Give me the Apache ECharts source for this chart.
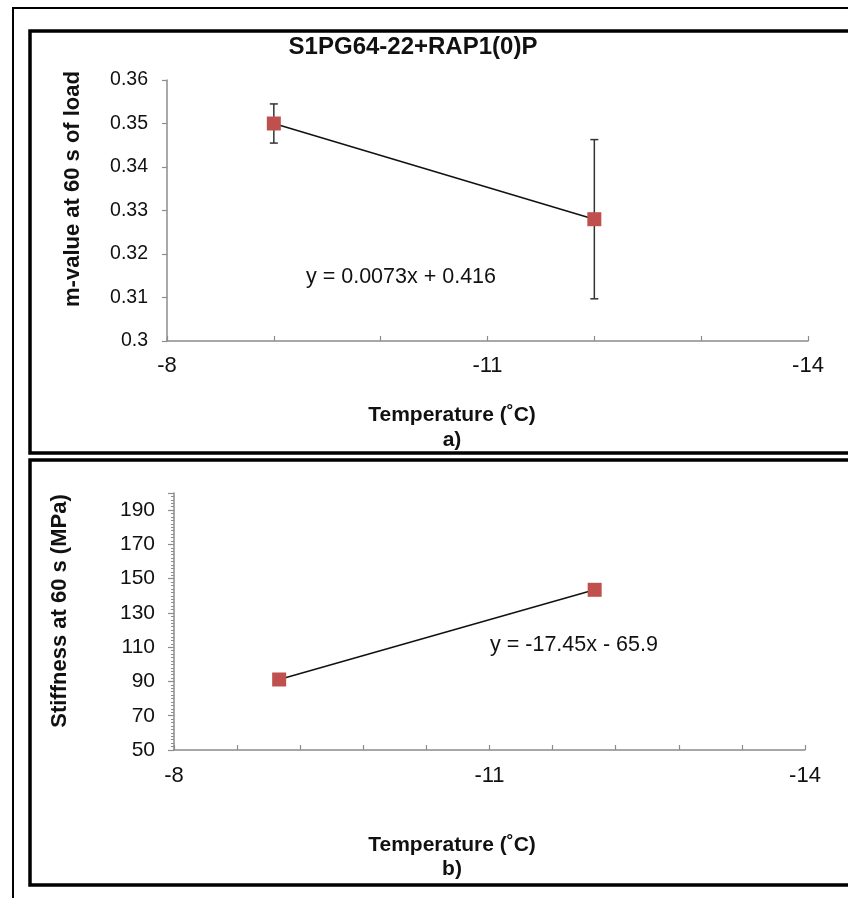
<!DOCTYPE html>
<html>
<head>
<meta charset="utf-8">
<script src="https://cdn.jsdelivr.net/npm/echarts@6/dist/echarts.min.js"></script>
<style>
  html, body { margin: 0; padding: 0; background: #fff; }
  #chart { width: 848px; height: 898px; }
</style>
</head>
<body>
<div id="chart"></div>
<script>
// Panel a: m-value at 60 s of load vs test temperature
const temps = [-9, -12];
const mValues = [0.350, 0.328];
const mErrors = [0.0045, 0.0183];
const mEquation = 'y = 0.0073x + 0.416';

// Panel b: creep stiffness at 60 s vs test temperature
const stiffness = [91.15, 143.5];
const sEquation = 'y = -17.45x - 65.9';

const chartTitle = 'S1PG64-22+RAP1(0)P';
const xTitle = 'Temperature (˚C)';
const yTitleA = 'm-value at 60 s of load';
const yTitleB = 'Stiffness at 60 s (MPa)';
const panelTags = ['a)', 'b)'];

const FONT = '"Liberation Sans", Arial, sans-serif';
const MARKER = '#c0504d';
const AXIS = '#8c8c8c';

const chart = echarts.init(document.getElementById('chart'), null, { renderer: 'canvas' });

const pairs = (xs, ys) => xs.map((x, i) => [x, ys[i]]);
const errData = temps.map((t, i) => [t, mValues[i] - mErrors[i], mValues[i] + mErrors[i]]);

// labels only at -14, -11 and -8
const isLabelTick = (v, step) => {
  const k = (v + 14) / step;
  return Math.abs(k - Math.round(k)) < 1e-6;
};

const baseX = {
  type: 'value', min: -14, max: -8, inverse: true,
  axisLine: { show: true, lineStyle: { color: AXIS, width: 1.5 } },
  axisTick: { show: true, inside: true, length: 5, lineStyle: { color: AXIS, width: 1.2 } },
  splitLine: { show: false },
  axisLabel: { color: '#111', fontSize: 22, fontFamily: FONT, margin: 14 }
};

const txt = (x, y, text, font, rot) => ({
  type: 'text', x, y, rotation: rot || 0,
  style: { text, font: font + ' ' + FONT, fill: '#111', textAlign: 'center', textVerticalAlign: 'middle' }
});

const option = {
  animation: false,
  backgroundColor: '#fff',
  graphic: [
    { type: 'rect', shape: { x: 13, y: 8, width: 860, height: 900 }, style: { fill: 'none', stroke: '#000', lineWidth: 2 } },
    { type: 'rect', shape: { x: 30, y: 31, width: 840, height: 422 }, style: { fill: 'none', stroke: '#000', lineWidth: 3.5 } },
    { type: 'rect', shape: { x: 30, y: 460, width: 840, height: 425 }, style: { fill: 'none', stroke: '#000', lineWidth: 3.5 } },
    txt(413, 47, chartTitle, 'bold 24px'),
    txt(452, 415, xTitle, 'bold 21px'),
    txt(452, 440, panelTags[0], 'bold 21px'),
    txt(452, 845, xTitle, 'bold 21px'),
    txt(452, 869, panelTags[1], 'bold 21px'),
    txt(73, 189, yTitleA, 'bold 22px', Math.PI / 2),
    txt(60, 611, yTitleB, 'bold 22px', Math.PI / 2),
    txt(401, 277, mEquation, '21.5px'),
    txt(574, 645, sEquation, '21.5px')
  ],
  grid: [
    { left: 167, right: 40, top: 80, bottom: 557 },
    { left: 174, right: 43, top: 493, bottom: 148 }
  ],
  xAxis: [
    Object.assign({}, baseX, {
      gridIndex: 0, interval: 1,
      axisLabel: Object.assign({}, baseX.axisLabel, { formatter: v => isLabelTick(v, 3) ? String(Math.round(v)) : '' })
    }),
    Object.assign({}, baseX, {
      gridIndex: 1, interval: 0.6,
      axisLabel: Object.assign({}, baseX.axisLabel, { margin: 15, formatter: v => isLabelTick(v, 3) ? String(Math.round(v)) : '' })
    })
  ],
  yAxis: [
    {
      type: 'value', gridIndex: 0, min: 0.3, max: 0.36, interval: 0.01,
      axisLine: { show: true, lineStyle: { color: AXIS, width: 1.5 } },
      axisTick: { show: true, length: 5, lineStyle: { color: AXIS, width: 1.2 } },
      splitLine: { show: false },
      axisLabel: { color: '#111', fontSize: 19.5, fontFamily: FONT, margin: 19, formatter: v => String(+v.toFixed(2)) }
    },
    {
      type: 'value', gridIndex: 1, min: 50, max: 200, interval: 20,
      axisLine: { show: true, lineStyle: { color: AXIS, width: 1.5 } },
      axisTick: { show: true, length: 6, lineStyle: { color: AXIS, width: 1.2 } },
      minorTick: { show: true, splitNumber: 10, length: 3, lineStyle: { color: AXIS, width: 1 } },
      splitLine: { show: false },
      axisLabel: { color: '#111', fontSize: 21, fontFamily: FONT, margin: 19, formatter: v => v > 190 ? '' : String(v) }
    }
  ],
  series: [
    {
      // standard-deviation bars on the m-value points
      type: 'custom', xAxisIndex: 0, yAxisIndex: 0, z: 3,
      renderItem: (params, api) => {
        const top = api.coord([api.value(0), api.value(2)]);
        const bot = api.coord([api.value(0), api.value(1)]);
        const hw = 4;
        const st = { stroke: '#333', lineWidth: 1.5 };
        return {
          type: 'group',
          children: [
            { type: 'line', shape: { x1: top[0], y1: top[1], x2: bot[0], y2: bot[1] }, style: st },
            { type: 'line', shape: { x1: top[0] - hw, y1: top[1], x2: top[0] + hw, y2: top[1] }, style: st },
            { type: 'line', shape: { x1: bot[0] - hw, y1: bot[1], x2: bot[0] + hw, y2: bot[1] }, style: st }
          ]
        };
      },
      encode: { x: 0, y: [1, 2] },
      data: errData
    },
    {
      type: 'line', xAxisIndex: 0, yAxisIndex: 0, z: 4,
      data: pairs(temps, mValues),
      symbol: 'rect', symbolSize: 14,
      itemStyle: { color: MARKER },
      lineStyle: { color: '#111', width: 1.5 }
    },
    {
      type: 'line', xAxisIndex: 1, yAxisIndex: 1, z: 4,
      data: pairs(temps, stiffness),
      symbol: 'rect', symbolSize: 14,
      itemStyle: { color: MARKER },
      lineStyle: { color: '#111', width: 1.5 }
    }
  ]
};

chart.setOption(option);
</script>
</body>
</html>
